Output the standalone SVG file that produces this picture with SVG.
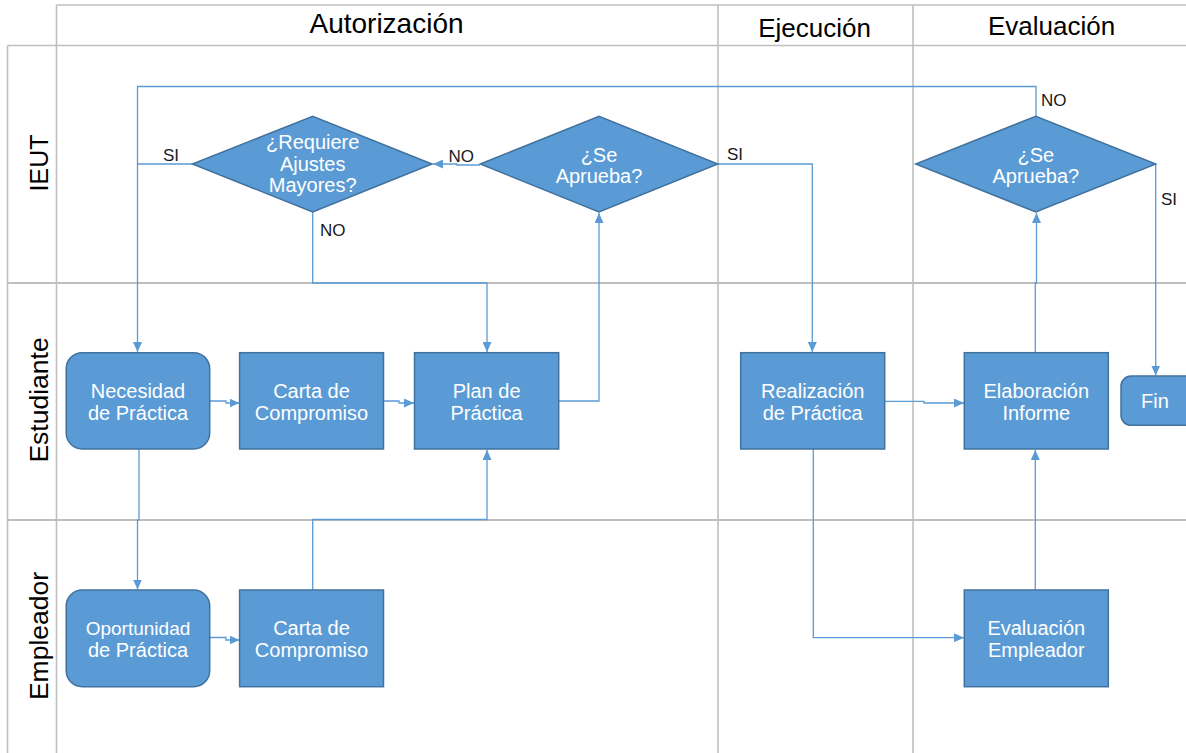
<svg xmlns="http://www.w3.org/2000/svg" width="1186" height="753" viewBox="0 0 1186 753">
<style>
.grid{stroke:#BFBFBF;stroke-width:1.6;fill:none}
.hdr{font-family:"Liberation Sans",Arial,sans-serif;font-size:26px;fill:#000;text-anchor:middle}
.lane{font-family:"Liberation Sans",Arial,sans-serif;font-size:26px;fill:#000;text-anchor:middle}
.box{fill:#5B9BD5;stroke:#41719C;stroke-width:1.5}
.nt{font-family:"Liberation Sans",Arial,sans-serif;font-size:20px;fill:#fff;text-anchor:middle}
.con{stroke:#5B9BD5;stroke-width:1.3;fill:none}
.lbl{font-family:"Liberation Sans",Arial,sans-serif;font-size:17px;fill:#1a1a1a}
</style>
<defs>
<marker id="arr" markerUnits="userSpaceOnUse" markerWidth="10" markerHeight="9" refX="10" refY="4.5" orient="auto">
<path d="M0,0 L10,4.5 L0,9 z" fill="#5B9BD5"/>
</marker>
</defs>
<rect x="0" y="0" width="1186" height="753" fill="#fff"/>
<g id="swimlanes">
<line class="grid" x1="56.5" y1="5" x2="1186" y2="5"/>
<line class="grid" x1="7.5" y1="45.5" x2="1186" y2="45.5"/>
<line class="grid" x1="7.5" y1="283" x2="1186" y2="283" style="stroke-width:2"/>
<line class="grid" x1="7.5" y1="520" x2="1186" y2="520" style="stroke-width:2"/>
<line class="grid" x1="7.5" y1="45.5" x2="7.5" y2="753"/>
<line class="grid" x1="56.5" y1="5" x2="56.5" y2="753"/>
<line class="grid" x1="718" y1="5" x2="718" y2="753"/>
<line class="grid" x1="913" y1="5" x2="913" y2="753"/>
<text class="hdr" x="386.5" y="33.3" style="font-size:28px">Autorización</text>
<text class="hdr" x="814.5" y="36.5">Ejecución</text>
<text class="hdr" x="1051.5" y="35">Evaluación</text>
<text class="lane" transform="translate(47.5,163) rotate(-90)" style="font-size:25px">IEUT</text>
<text class="lane" transform="translate(47.5,400) rotate(-90)" style="font-size:26.5px">Estudiante</text>
<text class="lane" transform="translate(47.5,636) rotate(-90)" style="font-size:26.5px">Empleador</text>
</g>
<g id="connectors">
<polyline class="con" points="480,165 457,165 457,164 433,164" marker-end="url(#arr)"/>
<polyline class="con" points="192.5,164 137.5,164 137.5,352" marker-end="url(#arr)"/>
<polyline class="con" points="1036,116 1036,86.5 137.5,86.5 137.5,164"/>
<polyline class="con" points="312.7,212 312.7,283 487,283 487,352" marker-end="url(#arr)"/>
<polyline class="con" points="718,164 812.3,164 812.3,352" marker-end="url(#arr)"/>
<polyline class="con" points="559,401 599,401 599,213" marker-end="url(#arr)"/>
<polyline class="con" points="210,401 226,401 226,403 239.5,403" marker-end="url(#arr)"/>
<polyline class="con" points="383.5,401 399,401 399,403 414,403" marker-end="url(#arr)"/>
<polyline class="con" points="139,449 139,520 137.5,520 137.5,589.5" marker-end="url(#arr)"/>
<polyline class="con" points="210,637.5 226,637.5 226,640 239.5,640" marker-end="url(#arr)"/>
<polyline class="con" points="312.7,590 312.7,519.5 487,519.5 487,450" marker-end="url(#arr)"/>
<polyline class="con" points="884.7,401.3 924,401.3 924,403 964,403" marker-end="url(#arr)"/>
<polyline class="con" points="813.3,449 813.3,637.7 964,637.7" marker-end="url(#arr)"/>
<polyline class="con" points="1035.3,590 1035.3,450" marker-end="url(#arr)"/>
<polyline class="con" points="1035.3,352.7 1035.3,283 1036.5,283 1036.5,213" marker-end="url(#arr)"/>
<polyline class="con" points="1155.7,164 1155.7,375.5" marker-end="url(#arr)"/>
<text class="lbl" x="163" y="161">SI</text>
<text class="lbl" x="448.5" y="162">NO</text>
<text class="lbl" x="320" y="236">NO</text>
<text class="lbl" x="727" y="160">SI</text>
<text class="lbl" x="1041" y="106">NO</text>
<text class="lbl" x="1161" y="205">SI</text>
</g>
<g id="d_requiere">
<polygon class="box" points="192.5,164 312.7,116.3 432,164 312.7,212"/>
<text class="nt" x="312.7" y="149">¿Requiere</text>
<text class="nt" x="312.7" y="170.5">Ajustes</text>
<text class="nt" x="312.7" y="192">Mayores?</text>
</g>
<g id="d_aprueba1">
<polygon class="box" points="480.3,164 599,116.3 717.7,164 599,212"/>
<text class="nt" x="599" y="162">¿Se</text>
<text class="nt" x="599" y="183">Aprueba?</text>
</g>
<g id="d_aprueba2">
<polygon class="box" points="915.8,164 1035.8,116.3 1155.7,164 1035.8,212"/>
<text class="nt" x="1035.8" y="162">¿Se</text>
<text class="nt" x="1035.8" y="183">Aprueba?</text>
</g>
<g id="n_necesidad">
<rect class="box" x="66.2" y="352.7" width="143.5" height="96.3" rx="16"/>
<text class="nt" x="138" y="398.3">Necesidad</text>
<text class="nt" x="138" y="419.5">de Práctica</text>
</g>
<g id="n_carta_est">
<rect class="box" x="239.6" y="352.7" width="143.9" height="96.3"/>
<text class="nt" x="311.5" y="398.3">Carta de</text>
<text class="nt" x="311.5" y="419.5">Compromiso</text>
</g>
<g id="n_plan">
<rect class="box" x="414.5" y="352.7" width="144.2" height="96.3"/>
<text class="nt" x="486.6" y="398.3">Plan de</text>
<text class="nt" x="486.6" y="419.5">Práctica</text>
</g>
<g id="n_oportunidad">
<rect class="box" x="66.2" y="590" width="143.5" height="96.7" rx="16"/>
<text class="nt" x="138" y="635" style="font-size:19px">Oportunidad</text>
<text class="nt" x="138" y="656.5">de Práctica</text>
</g>
<g id="n_carta_emp">
<rect class="box" x="239.6" y="590" width="143.9" height="96.7"/>
<text class="nt" x="311.5" y="635">Carta de</text>
<text class="nt" x="311.5" y="656.5">Compromiso</text>
</g>
<g id="n_realizacion">
<rect class="box" x="740.7" y="352.7" width="144" height="96.3"/>
<text class="nt" x="812.7" y="398.3">Realización</text>
<text class="nt" x="812.7" y="419.5">de Práctica</text>
</g>
<g id="n_elaboracion">
<rect class="box" x="964.3" y="352.7" width="144" height="96.3"/>
<text class="nt" x="1036.3" y="398.3">Elaboración</text>
<text class="nt" x="1036.3" y="419.5">Informe</text>
</g>
<g id="n_evaluacion_emp">
<rect class="box" x="964.3" y="590" width="144" height="96.7"/>
<text class="nt" x="1036.3" y="635">Evaluación</text>
<text class="nt" x="1036.3" y="656.5">Empleador</text>
</g>
<g id="n_fin">
<rect class="box" x="1121" y="376" width="80" height="49.3" rx="10"/>
<text class="nt" x="1155" y="408.3">Fin</text>
</g>
</svg>
